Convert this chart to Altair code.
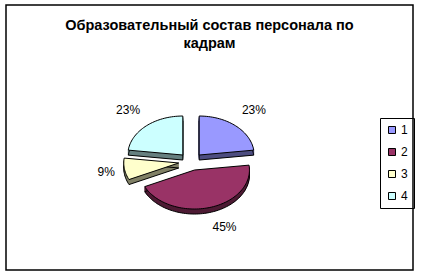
import math
import numpy as np
import pandas as pd
import altair as alt

# ---- data -------------------------------------------------------------
title_lines = ["Образовательный состав персонала по", "кадрам"]
slices = ["1", "2", "3", "4"]
values = [23, 45, 9, 23]

# ---- styles / layout ---------------------------------------------------
top_colors = ["#9999FF", "#993366", "#FFFFCC", "#CCFFFF"]
side_colors = ["#4D4D80", "#4D1A33", "#808066", "#668080"]
FONT = "Liberation Sans"
W, H = 407, 265              # framed plot area
CX, CY = 185, 156.6          # pie centre inside the frame (px)
RX, RY = 55, 39              # ellipse radii (px) -> tilted look
EXPLODE = 0.225              # radial explosion (in radius units)
DEPTH = 5                    # 3-D thickness in px
LABEL_RX, LABEL_RY = 1.4, 1.75
STEP = math.radians(2)

# ---- geometry derived from the values ----------------------------------
total = sum(values)
rows, lab = [], []
cum = 0
for s, v in zip(slices, values):
    a0 = 2 * math.pi * cum / total
    a1 = 2 * math.pi * (cum + v) / total
    mid = (a0 + a1) / 2
    ex, ey = EXPLODE * math.sin(mid), EXPLODE * math.cos(mid)
    n = max(2, int(math.ceil((a1 - a0) / STEP)))
    pts = [(ex, ey)]
    pts += [(ex + math.sin(a), ey + math.cos(a)) for a in np.linspace(a0, a1, n + 1)]
    pts += [(ex, ey)]
    for i, (x, y) in enumerate(pts):
        rows.append({"slice": s, "i": i, "x": x, "y": y})
    lab.append({"slice": s, "pct": v / total,
                "lx": LABEL_RX * math.sin(mid), "ly": LABEL_RY * math.cos(mid),
                "right": math.sin(mid) > 0})
    cum += v

poly = pd.DataFrame(rows)
labels = pd.DataFrame(lab)

xs = alt.Scale(domain=[-CX / RX, (W - CX) / RX])
ys = alt.Scale(domain=[-(H - CY) / RY, CY / RY])
X = lambda f: alt.X(f"{f}:Q", scale=xs, axis=None)
Y = lambda f: alt.Y(f"{f}:Q", scale=ys, axis=None)

side_scale = alt.Scale(domain=slices, range=side_colors)
top_scale = alt.Scale(domain=slices, range=top_colors)

layers = []
for off in range(1, DEPTH):
    layers.append(
        alt.Chart(poly).mark_line(yOffset=off, strokeWidth=1).encode(
            x=X("x"), y=Y("y"), order="i:Q",
            fill=alt.Fill("slice:N", scale=side_scale, legend=None),
            stroke=alt.Stroke("slice:N", scale=side_scale, legend=None),
        )
    )
layers.append(
    alt.Chart(poly).mark_line(yOffset=DEPTH, stroke="black", strokeWidth=1).encode(
        x=X("x"), y=Y("y"), order="i:Q",
        fill=alt.Fill("slice:N", scale=side_scale, legend=None),
    )
)
layers.append(
    alt.Chart(poly).mark_line(stroke="black", strokeWidth=1).encode(
        x=X("x"), y=Y("y"), order="i:Q",
        fill=alt.Fill(
            "slice:N", scale=top_scale,
            legend=alt.Legend(
                title=None, orient="none", legendX=374, legendY=113,
                symbolType="square", symbolSize=49, symbolStrokeColor="black",
                symbolStrokeWidth=1, labelFont=FONT, labelFontSize=12,
                labelColor="black", strokeColor="black", padding=6,
                rowPadding=10, labelOffset=3,
            ),
        ),
    )
)
for is_right, align in [(True, "left"), (False, "right")]:
    layers.append(
        alt.Chart(labels).transform_filter(
            alt.datum.right if is_right else ~alt.datum.right
        ).mark_text(align=align, baseline="middle", font=FONT, fontSize=12,
                    color="black").encode(
            x=X("lx"), y=Y("ly"), text=alt.Text("pct:Q", format=".0%"),
        )
    )

chart = (
    alt.layer(*layers)
    .resolve_scale(fill="independent", stroke="independent")
    .properties(
        width=W, height=H, autosize="none",
        padding={"left": 6, "top": 5, "right": 8, "bottom": 6},
        background="white",
        title=alt.TitleParams(
            text=title_lines, font=FONT, fontSize=14.5, fontWeight="bold",
            color="black", anchor="middle", frame="group",
            baseline="alphabetic", offset=0, dy=57, lineHeight=18,
        ),
    )
    .configure_view(stroke="black", strokeWidth=1.5)
)

chart.save("out.html", embed_options={"renderer": "svg", "actions": False})
